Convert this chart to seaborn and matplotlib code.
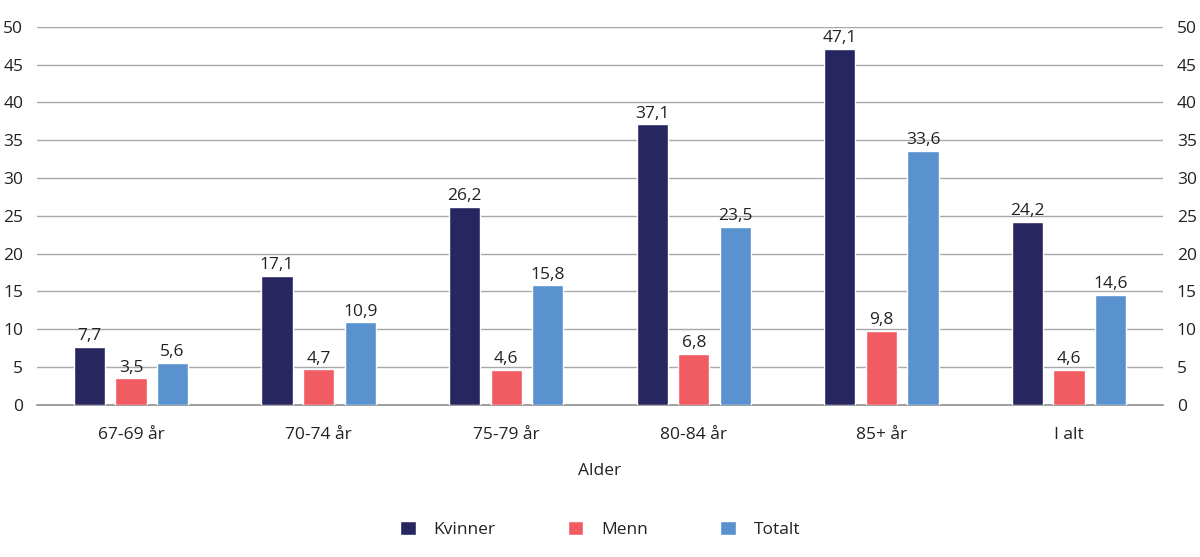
import numpy as np
import pandas as pd
import matplotlib
matplotlib.use("Agg")
import matplotlib.pyplot as plt
import seaborn as sns
from matplotlib.patches import Patch

categories = ["67-69 år", "70-74 år", "75-79 år", "80-84 år", "85+ år", "I alt"]
series = ["Kvinner", "Menn", "Totalt"]
kvinner = [7.7, 17.1, 26.2, 37.1, 47.1, 24.2]
menn = [3.5, 4.7, 4.6, 6.8, 9.8, 4.6]
totalt = [5.6, 10.9, 15.8, 23.5, 33.6, 14.6]
colors = ["#272660", "#f15c62", "#5a92cf"]

df = pd.DataFrame({"Alder": categories, "Kvinner": kvinner, "Menn": menn, "Totalt": totalt})
long = df.melt(id_vars="Alder", var_name="Serie", value_name="Verdi")

sns.set_style("white")
plt.rcParams["font.family"] = ["Open Sans", "DejaVu Sans"]
text_color = "#222222"
fs = 12.5

fig = plt.figure(figsize=(12, 5.57), dpi=100)
ax = fig.add_axes([0.031, 0.273, 0.938, 0.679])

sns.barplot(data=long, x="Alder", y="Verdi", hue="Serie", hue_order=series,
            palette=colors, width=0.665, gap=0.25, saturation=1,
            legend=False, ax=ax, zorder=3)

for container in ax.containers:
    labels = [f"{v:.1f}".replace(".", ",") for v in container.datavalues]
    ax.bar_label(container, labels=labels, padding=2, fontsize=fs, color=text_color)

ax.set_ylim(0, 50)
ax.set_yticks(np.arange(0, 51, 5))
ax.set_xlim(-0.5, len(categories) - 0.5)
ax.grid(axis="y", color="#a8a8a8", linewidth=1, zorder=0)
for side in ["top", "right", "left"]:
    ax.spines[side].set_visible(False)
ax.spines["bottom"].set_color("#909090")
ax.spines["bottom"].set_linewidth(1.2)
ax.tick_params(axis="x", length=0, labelsize=fs, colors=text_color, pad=16)
ax.tick_params(axis="y", length=0, labelsize=fs, colors=text_color, pad=10)
ax.set_ylabel("")
ax.set_xlabel("Alder", fontsize=fs, color=text_color, labelpad=14)

ax2 = ax.twinx()
ax2.set_ylim(0, 50)
ax2.set_yticks(np.arange(0, 51, 5))
for side in ["top", "right", "left", "bottom"]:
    ax2.spines[side].set_visible(False)
ax2.tick_params(axis="y", length=0, labelsize=fs, colors=text_color, pad=10)

handles = [Patch(facecolor=c, label=s) for c, s in zip(colors, series)]
fig.legend(handles=handles, loc="center", bbox_to_anchor=(0.5, 0.05), ncol=3,
           frameon=False, fontsize=fs, handlelength=0.9, handleheight=0.9,
           columnspacing=4.2, handletextpad=1.0, labelcolor=text_color)

fig.savefig("out.png", dpi=100)
